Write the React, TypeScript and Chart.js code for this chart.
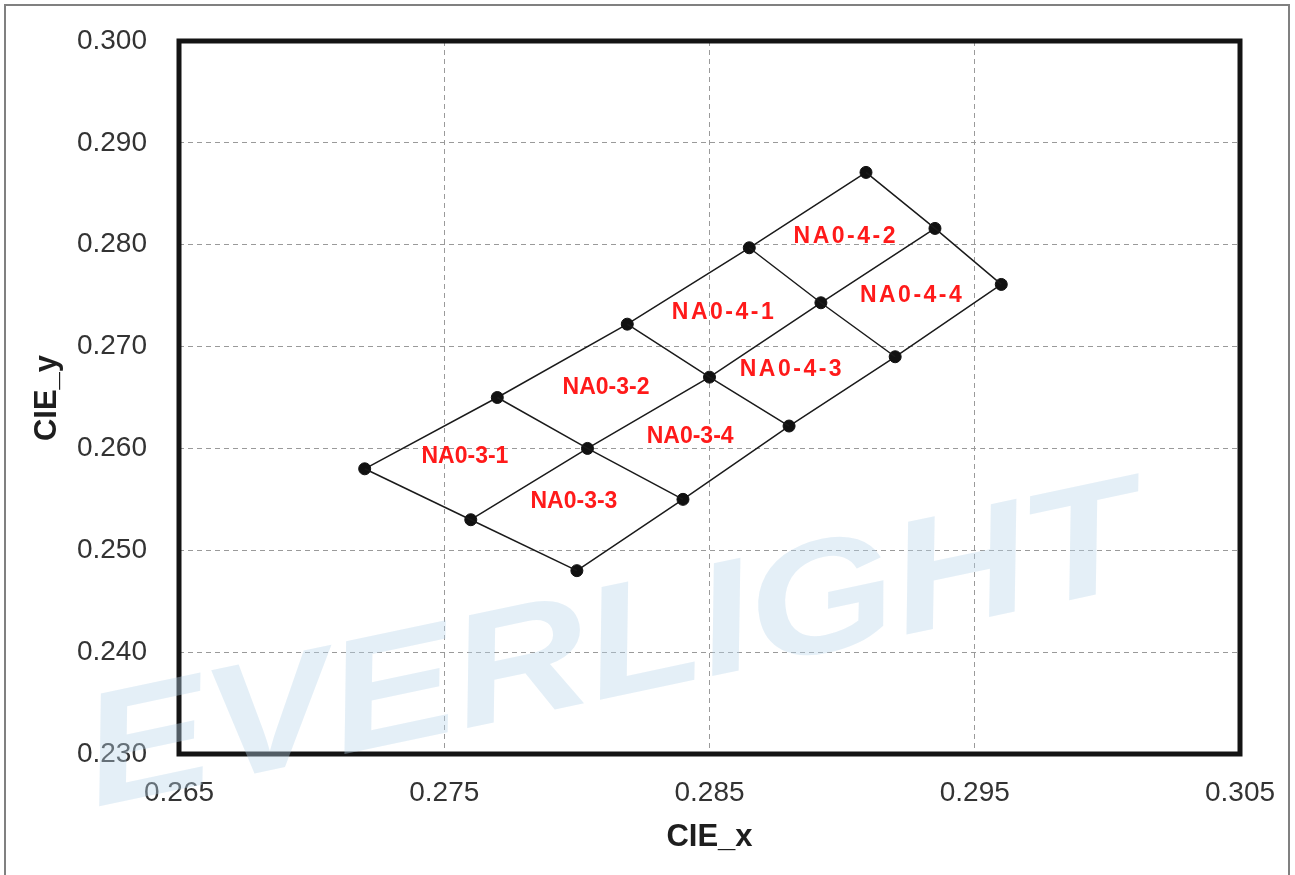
import React, { useEffect, useRef } from "react";
import { Chart, registerables } from "chart.js";

Chart.register(...registerables);

// ---- Axis ticks ----
const X_TICKS = [0.265, 0.275, 0.285, 0.295, 0.305];
const Y_TICKS = [0.23, 0.24, 0.25, 0.26, 0.27, 0.28, 0.29, 0.3];

// ---- Bin grid corner points (3 rows x 5 columns) ----
const ROW_TOP_X = [0.272, 0.277, 0.2819, 0.2865, 0.2909];
const ROW_TOP_Y = [0.258, 0.265, 0.2722, 0.2797, 0.2871];
const ROW_MID_X = [0.276, 0.2804, 0.285, 0.2892, 0.2935];
const ROW_MID_Y = [0.253, 0.26, 0.267, 0.2743, 0.2816];
const ROW_BOT_X = [0.28, 0.284, 0.288, 0.292, 0.296];
const ROW_BOT_Y = [0.248, 0.255, 0.2622, 0.269, 0.2761];

// ---- Bin labels ----
const BIN_NAMES = ["NA0-3-1", "NA0-3-2", "NA0-3-3", "NA0-3-4", "NA0-4-1", "NA0-4-2", "NA0-4-3", "NA0-4-4"];
const BIN_X = [0.27578, 0.2811, 0.27989, 0.28427, 0.28551, 0.2901, 0.28807, 0.2926];
const BIN_Y = [0.25916, 0.26593, 0.25474, 0.26112, 0.27329, 0.28076, 0.2677, 0.27496];

const X_TITLE = "CIE_x";
const Y_TITLE = "CIE_y";
const WATERMARK = "EVERLIGHT";

const W = 1295;
const H = 875;

function pts(xs: number[], ys: number[]) {
  return xs.map((x, i) => ({ x, y: ys[i] }));
}

function zeroPad(s: any) {
  s.paddingTop = 0;
  s.paddingBottom = 0;
  s.paddingLeft = 0;
  s.paddingRight = 0;
}

export default function App() {
  const ref = useRef<HTMLCanvasElement | null>(null);

  useEffect(() => {
    if (!ref.current) return;
    const rows = [
      pts(ROW_TOP_X, ROW_TOP_Y),
      pts(ROW_MID_X, ROW_MID_Y),
      pts(ROW_BOT_X, ROW_BOT_Y),
    ];
    const cols = ROW_TOP_X.map((_, i) => [
      { x: ROW_TOP_X[i], y: ROW_TOP_Y[i] },
      { x: ROW_MID_X[i], y: ROW_MID_Y[i] },
      { x: ROW_BOT_X[i], y: ROW_BOT_Y[i] },
    ]);

    const lineStyle = {
      showLine: true,
      borderColor: "#1a1a1a",
      borderWidth: 1.5,
      backgroundColor: "#111",
      pointBackgroundColor: "#111",
      pointBorderColor: "#111",
    };

    const datasets: any[] = [
      ...cols.map((d) => ({ ...lineStyle, data: d, pointRadius: 0 })),
      ...rows.map((d) => ({ ...lineStyle, data: d, pointRadius: 6, pointBorderWidth: 1 })),
    ];

    const decor = {
      id: "decor",
      afterDraw(chart: any) {
        const ctx = chart.ctx;
        const { left, right, top, bottom } = chart.chartArea;
        const xs = chart.scales.x;
        const ys = chart.scales.y;
        ctx.save();
        // plot frame
        ctx.strokeStyle = "#141414";
        ctx.lineWidth = 5;
        ctx.strokeRect(left, top, right - left, bottom - top);
        // outer frame
        ctx.strokeStyle = "#808080";
        ctx.lineWidth = 2;
        ctx.strokeRect(5, 5, W - 11, H + 20);
        // bin labels
        ctx.fillStyle = "#ff1a1a";
        ctx.font = 'bold 23px "Liberation Sans", Arial, sans-serif';
        ctx.textAlign = "center";
        ctx.textBaseline = "middle";
        BIN_NAMES.forEach((n, i) => {
          const wide = n.startsWith("NA0-4");
          (ctx as any).letterSpacing = wide ? "2.5px" : "0px";
          ctx.fillText(n, xs.getPixelForValue(BIN_X[i]) + (wide ? 1 : 0), ys.getPixelForValue(BIN_Y[i]));
        });
        (ctx as any).letterSpacing = "0px";
        // axis titles
        ctx.fillStyle = "#1e1e1e";
        ctx.font = 'bold 31px "Liberation Sans", Arial, sans-serif';
        ctx.fillText(X_TITLE, (left + right) / 2, 837);
        ctx.save();
        ctx.translate(47, 398);
        ctx.rotate(-Math.PI / 2);
        ctx.fillText(Y_TITLE, 0, 0);
        ctx.restore();
        // watermark
        ctx.save();
        ctx.translate(613, 652);
        ctx.rotate((-12 * Math.PI) / 180);
        ctx.scale(1, 0.85);
        ctx.font = 'italic bold 188px "Liberation Sans", Arial, sans-serif';
        ctx.fillStyle = "rgba(185, 212, 235, 0.38)";
        ctx.fillText(WATERMARK, 0, 0);
        ctx.restore();
        ctx.restore();
      },
    };

    const tickFont = { family: '"Liberation Sans", Arial, sans-serif', size: 28 };

    const chart = new Chart(ref.current, {
      type: "scatter",
      data: { datasets },
      options: {
        responsive: false,
        animation: false,
        events: [],
        layout: { padding: { top: 41, right: 55, bottom: 0, left: 0 } },
        plugins: { legend: { display: false }, tooltip: { enabled: false }, title: { display: false } },
        scales: {
          x: {
            type: "linear",
            min: X_TICKS[0],
            max: X_TICKS[X_TICKS.length - 1],
            afterBuildTicks: (s: any) => {
              s.ticks = X_TICKS.map((v) => ({ value: v }));
            },
            afterFit: (s: any) => {
              s.height = 121;
              zeroPad(s);
            },
            ticks: {
              callback: (v: any) => Number(v).toFixed(3),
              font: tickFont,
              color: "#333",
              padding: 22,
              maxRotation: 0,
              autoSkip: false,
            },
            grid: { color: "#9a9a9a", lineWidth: 1, drawTicks: false },
            border: { display: false, dash: [5, 4] },
          },
          y: {
            type: "linear",
            min: Y_TICKS[0],
            max: Y_TICKS[Y_TICKS.length - 1],
            afterBuildTicks: (s: any) => {
              s.ticks = Y_TICKS.map((v) => ({ value: v }));
            },
            afterFit: (s: any) => {
              s.width = 179;
              zeroPad(s);
            },
            ticks: {
              callback: (v: any) => Number(v).toFixed(3),
              font: tickFont,
              color: "#333",
              padding: 32,
              autoSkip: false,
            },
            grid: { color: "#9a9a9a", lineWidth: 1, drawTicks: false },
            border: { display: false, dash: [5, 4] },
          },
        },
      },
      plugins: [decor],
    } as any);

    return () => chart.destroy();
  }, []);

  return (
    <div style={{ position: "absolute", left: 0, top: 0, width: W, height: H, background: "#fff" }}>
      <canvas ref={ref} width={W} height={H} style={{ display: "block", width: W, height: H }} />
    </div>
  );
}
